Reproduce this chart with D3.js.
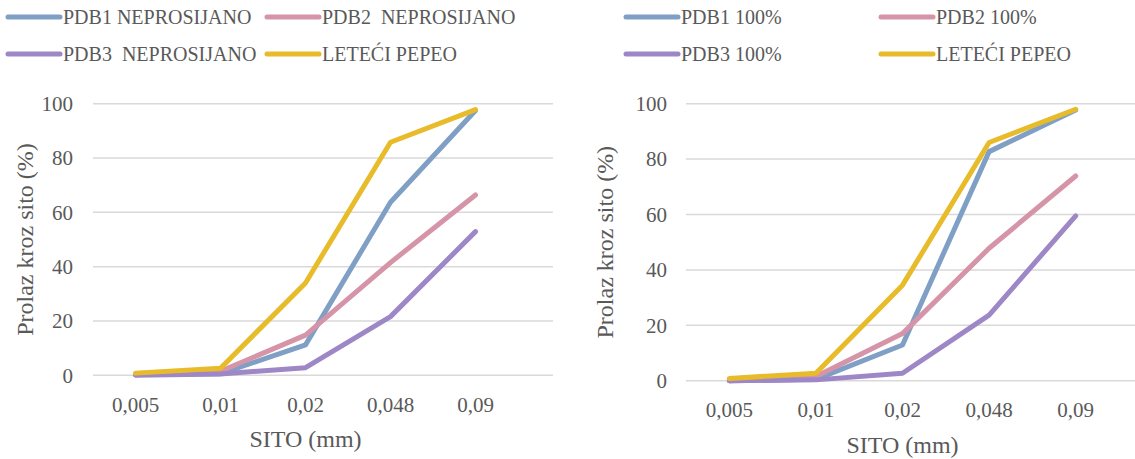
<!DOCTYPE html>
<html>
<head>
<meta charset="utf-8">
<script src="https://cdn.jsdelivr.net/npm/d3@7"></script>
<style>
  body { margin: 0; background: #ffffff; }
</style>
</head>
<body>
<script>
// Categories (sieve sizes)
var sieves = ["0,005", "0,01", "0,02", "0,048", "0,09"];
var yTicks = [0, 20, 40, 60, 80, 100];

// Left chart: unsieved
var leftNames = ["PDB1 NEPROSIJANO", "PDB2  NEPROSIJANO", "PDB3  NEPROSIJANO", "LETEĆI PEPEO"];
var leftPdb1 = [0.3, 0.6, 11.2, 63.7, 97.5];
var leftPdb2 = [0.2, 1.5, 14.8, 41.5, 66.4];
var leftPdb3 = [0.0, 0.5, 2.8, 21.6, 52.9];
var leftPepeo = [0.8, 2.6, 34.0, 85.8, 97.8];

// Right chart: 100%
var rightNames = ["PDB1 100%", "PDB2 100%", "PDB3 100%", "LETEĆI PEPEO"];
var rightPdb1 = [0.0, 0.5, 12.9, 82.7, 97.7];
var rightPdb2 = [0.0, 1.5, 17.0, 47.8, 73.9];
var rightPdb3 = [0.0, 0.3, 2.7, 23.7, 59.5];
var rightPepeo = [0.8, 2.7, 34.5, 86.0, 98.0];

var colors = ["#7f9fc5", "#d594a7", "#9e87c6", "#e8bb2a"];
var serif = "Times New Roman, Liberation Serif, Nimbus Roman, FreeSerif, DejaVu Serif, serif";

function init() {
    var svg = d3.select("body")
        .append("svg")
        .attr("width", 1135)
        .attr("height", 459)
        .attr("font-family", serif);

    drawPanel(svg, {
        names: leftNames,
        series: [leftPdb1, leftPdb2, leftPdb3, leftPepeo],
        left: 93, bandRight: 518, gridRight: 553,
        top: 103.7, bottom: 375.3,
        tickX: 73, yTitleX: 25, xTickY: 405, xTitleY: 439,
        legendX: [8, 267], legendY: [17, 54]
    });

    drawPanel(svg, {
        names: rightNames,
        series: [rightPdb1, rightPdb2, rightPdb3, rightPepeo],
        left: 686, bandRight: 1119, gridRight: 1135,
        top: 103.7, bottom: 380.7,
        tickX: 667, yTitleX: 605, xTickY: 410, xTitleY: 445,
        legendX: [626, 881], legendY: [17, 54]
    });
}

function drawPanel(svg, p) {
    var g = svg.append("g");

    // xScale
    var xScale = d3.scaleBand()
        .domain(sieves)
        .range([p.left, p.bandRight]);

    // yScale
    var yScale = d3.scaleLinear()
        .domain([0, 100])
        .range([p.bottom, p.top]);

    // gridlines
    g.selectAll("line.grid")
        .data(yTicks)
        .enter()
        .append("line")
        .attr("class", "grid")
        .attr("x1", p.left)
        .attr("x2", p.gridRight)
        .attr("y1", function(d) { return yScale(d); })
        .attr("y2", function(d) { return yScale(d); })
        .style("stroke", "#d9d9d9")
        .style("stroke-width", 1.5);

    // y tick labels
    g.selectAll("text.ytick")
        .data(yTicks)
        .enter()
        .append("text")
        .attr("class", "ytick")
        .attr("x", p.tickX)
        .attr("y", function(d) { return yScale(d); })
        .attr("dy", "0.35em")
        .attr("text-anchor", "end")
        .attr("fill", "#595959")
        .attr("font-size", 21)
        .text(function(d) { return d; });

    // x tick labels
    g.selectAll("text.xtick")
        .data(sieves)
        .enter()
        .append("text")
        .attr("class", "xtick")
        .attr("x", function(d) { return xScale(d) + xScale.bandwidth() / 2; })
        .attr("y", p.xTickY)
        .attr("dy", "0.35em")
        .attr("text-anchor", "middle")
        .attr("fill", "#595959")
        .attr("font-size", 21)
        .text(function(d) { return d; });

    // axis titles
    g.append("text")
        .attr("x", (p.left + p.bandRight) / 2)
        .attr("y", p.xTitleY)
        .attr("dy", "0.35em")
        .attr("text-anchor", "middle")
        .attr("fill", "#595959")
        .attr("font-size", 24)
        .text("SITO (mm)");

    g.append("text")
        .attr("transform", "translate(" + p.yTitleX + "," + (p.top + p.bottom) / 2 + ") rotate(-90)")
        .attr("dy", "0.35em")
        .attr("text-anchor", "middle")
        .attr("fill", "#595959")
        .attr("font-size", 24)
        .text("Prolaz kroz sito (%)");

    // lines
    var line = d3.line()
        .x(function(d, i) { return xScale(sieves[i]) + xScale.bandwidth() / 2; })
        .y(function(d) { return yScale(d); });

    g.selectAll("path.series")
        .data(p.series)
        .enter()
        .append("path")
        .attr("class", "series")
        .attr("d", line)
        .style("fill", "none")
        .style("stroke", function(d, i) { return colors[i]; })
        .style("stroke-width", 5)
        .style("stroke-linecap", "round")
        .style("stroke-linejoin", "round");

    // legend
    var legend = g.selectAll(".legend")
        .data(p.names)
        .enter()
        .append("g")
        .attr("class", "legend")
        .attr("transform", function(d, i) {
            return "translate(" + p.legendX[i % 2] + "," + p.legendY[Math.floor(i / 2)] + ")";
        });

    legend.append("line")
        .attr("x1", 0)
        .attr("x2", 52)
        .style("stroke", function(d, i) { return colors[i]; })
        .style("stroke-width", 5)
        .style("stroke-linecap", "round");

    legend.append("text")
        .attr("x", 55)
        .attr("dy", "0.35em")
        .attr("fill", "#595959")
        .attr("font-size", 20)
        .style("white-space", "pre")
        .text(function(d) { return d; });
}

window.onload = init;
</script>
</body>
</html>
